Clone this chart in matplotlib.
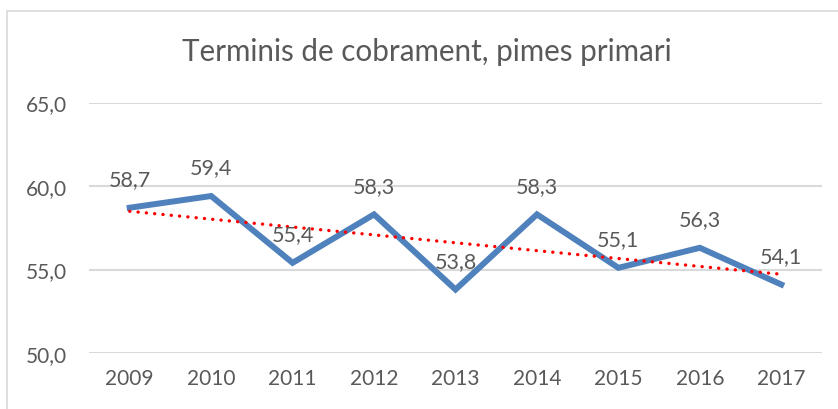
import matplotlib
matplotlib.use("Agg")
import matplotlib.pyplot as plt
import numpy as np
from matplotlib.patches import Rectangle

years = ["2009", "2010", "2011", "2012", "2013", "2014", "2015", "2016", "2017"]
values = [58.7, 59.4, 55.4, 58.3, 53.8, 58.3, 55.1, 56.3, 54.1]
yticks = [50.0, 55.0, 60.0, 65.0]
title = "Terminis de cobrament, pimes primari"

plt.rcParams['font.family'] = ['Lato', 'DejaVu Sans']
txt = '#595959'

fig = plt.figure(figsize=(8.38, 4.10), dpi=100)
ax = fig.add_axes([89/838, 56/410, (822-89)/838, (354-103.5)/410])

x = np.arange(len(years))
ax.plot(x, values, color='#4F81BD', lw=4.3, solid_joinstyle='miter', zorder=3)

coef = np.polyfit(x, values, 1)
trend = np.polyval(coef, x)
ax.plot(x, trend, color='#FF0000', lw=2.4, linestyle=(0, (0.05, 2.45)),
        dash_capstyle='round', zorder=4)

for xi, v in zip(x, values):
    ax.annotate(f"{v:.1f}".replace('.', ','), (xi, v), xytext=(0, 20.5),
                textcoords='offset points', ha='center', va='center',
                fontsize=15.5, color=txt, zorder=5)

ax.set_xlim(-0.5, len(years) - 0.5)
ax.set_ylim(50, 65)
ax.set_xticks(x)
ax.set_xticklabels(years)
ax.set_yticks(yticks)
ax.set_yticklabels([f"{t:.1f}".replace('.', ',') for t in yticks])
ax.tick_params(length=0, labelsize=15, labelcolor=txt)
ax.tick_params(axis='x', pad=11)
ax.tick_params(axis='y', pad=16)
for s in ax.spines.values():
    s.set_visible(False)
ax.grid(axis='y', color='#D9D9D9', lw=1.5)
ax.set_axisbelow(True)

fig.text(427/838, 1 - 52/410, title, ha='center', va='center', fontsize=21.3, color=txt)

fig.patches.append(Rectangle((7/838, -0.1), 1.2, (410 - 12)/410 + 0.1,
                             transform=fig.transFigure, fill=False,
                             edgecolor='#D9D9D9', lw=1.2))

fig.savefig("out.png", dpi=100)
